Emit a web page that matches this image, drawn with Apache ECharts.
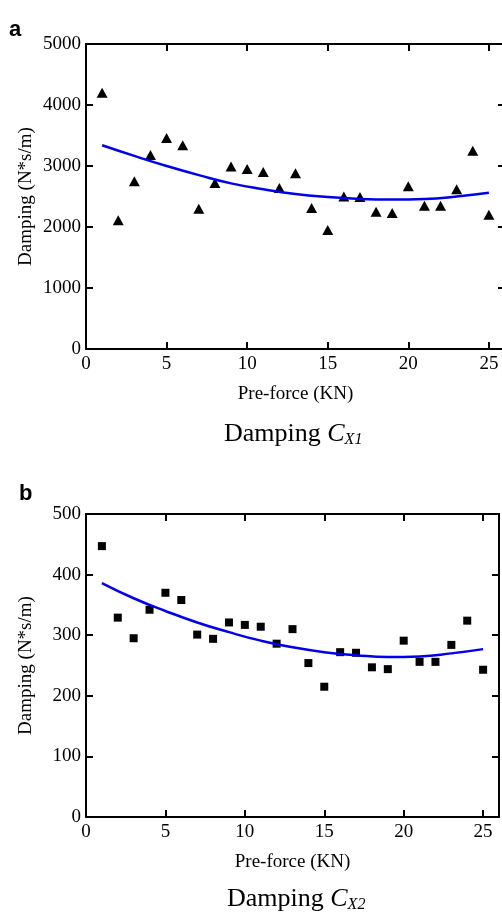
<!DOCTYPE html>
<html>
<head>
<meta charset="utf-8">
<script src="https://cdn.jsdelivr.net/npm/echarts@6/dist/echarts.min.js"></script>
<style>
  html, body { margin: 0; padding: 0; background: #fff; }
  #chart { width: 502px; height: 914px; }
</style>
</head>
<body>
<div id="chart"></div>
<script>
// pre-force values (KN)
const preForce = [1, 2, 3, 4, 5, 6, 7, 8, 9, 10, 11, 12, 13, 14, 15, 16, 17, 18, 19, 20, 21, 22, 23, 24, 25];
// measured damping C_X1 (N*s/m)
const dampCx1 = [4200, 2110, 2750, 3180, 3460, 3340, 2300, 2720, 2990, 2950, 2900, 2640, 2880, 2310, 1950, 2500, 2490, 2250, 2230, 2670, 2350, 2350, 2620, 3250, 2200];
// measured damping C_X2 (N*s/m)
const dampCx2 = [447, 329, 295, 342, 370, 358, 301, 294, 321, 317, 314, 286, 310, 254, 215, 272, 271, 247, 244, 291, 256, 256, 284, 324, 243];
// fitted curves
const fitForce = [1, 3, 5, 7, 9, 11, 13, 15, 17, 19, 21, 23, 25];
const fitCx1 = [3340, 3165, 3000, 2850, 2715, 2620, 2540, 2490, 2460, 2450, 2460, 2500, 2560];
const fitCx2 = [386, 361, 340, 321, 305, 291, 280, 272, 267, 264, 265, 270, 277];
// tick labels
const xTicks = [0, 5, 10, 15, 20, 25];

const chart = echarts.init(document.getElementById('chart'));

const serif = 'Liberation Serif';
const black = '#000';

const pairs = (xs, ys) => xs.map((x, i) => [x, ys[i]]);

const axisLine = { show: true, onZero: false, lineStyle: { color: black, width: 2 } };
const tickIn = { show: true, inside: true, length: 7, lineStyle: { color: black, width: 2 } };

const makeX = (g) => ([
  {
    gridIndex: g, type: 'value', position: 'bottom',
    min: 0, max: 26, interval: 5,
    axisLine, axisTick: tickIn,
    axisLabel: {
      color: black, fontFamily: serif, fontSize: 19, margin: 6,
      formatter: v => (xTicks.includes(v) ? String(v) : '')
    },
    splitLine: { show: false },
    name: 'Pre-force (KN)', nameLocation: 'middle', nameGap: 36,
    nameTextStyle: { color: black, fontFamily: serif, fontSize: 19 }
  },
  {
    gridIndex: g, type: 'value', position: 'top',
    min: 0, max: 26, interval: 5,
    axisLine, axisTick: tickIn,
    axisLabel: { show: false },
    splitLine: { show: false }
  }
]);

const makeY = (g, max, step) => ([
  {
    gridIndex: g, type: 'value', position: 'left',
    min: 0, max: max, interval: step,
    axisLine, axisTick: tickIn,
    axisLabel: { color: black, fontFamily: serif, fontSize: 19, margin: 5, formatter: v => String(v) },
    splitLine: { show: false },
    name: 'Damping (N*s/m)', nameLocation: 'middle', nameGap: 50, nameRotate: 90,
    nameMoveOverlap: false,
    nameTextStyle: { color: black, fontFamily: serif, fontSize: 19 }
  },
  {
    gridIndex: g, type: 'value', position: 'right',
    min: 0, max: max, interval: step,
    axisLine, axisTick: tickIn,
    axisLabel: { show: false },
    splitLine: { show: false }
  }
]);

const caption = (sub, top, left) => ({
  text: '{a|Damping }{c|C}{s|' + sub + '}',
  left: left, top: top,
  textStyle: {
    fontWeight: 'normal',
    rich: {
      a: { fontFamily: serif, fontSize: 26, fontWeight: 'normal', color: black, verticalAlign: 'top' },
      c: { fontFamily: serif, fontSize: 26, fontWeight: 'normal', color: black, fontStyle: 'italic', verticalAlign: 'top' },
      s: { fontFamily: serif, fontSize: 16, fontWeight: 'normal', color: black, fontStyle: 'italic', verticalAlign: 'top', padding: [11, 0, 0, 0] }
    }
  }
});

const option = {
  animation: false,
  backgroundColor: '#fff',
  title: [
    { text: 'a', left: 4, top: 14, textStyle: { fontFamily: 'Liberation Sans', fontWeight: 'bold', fontSize: 22, color: black } },
    { text: 'b', left: 14, top: 478, textStyle: { fontFamily: 'Liberation Sans', fontWeight: 'bold', fontSize: 22, color: black } },
    caption('X1', 416, 219),
    caption('X2', 881, 222)
  ],
  grid: [
    { left: 86, top: 44, width: 419, height: 305, outerBoundsMode: 'none' },
    { left: 86, top: 514, width: 413, height: 303, outerBoundsMode: 'none' }
  ],
  xAxis: [...makeX(0), ...makeX(1)],
  yAxis: [...makeY(0, 5000, 1000), ...makeY(1, 500, 100)],
  series: [
    {
      type: 'scatter', xAxisIndex: 0, yAxisIndex: 0,
      data: pairs(preForce, dampCx1),
      symbol: 'triangle', symbolSize: [11, 10],
      itemStyle: { color: black, opacity: 1 }
    },
    {
      type: 'line', xAxisIndex: 0, yAxisIndex: 0,
      data: pairs(fitForce, fitCx1),
      smooth: true, showSymbol: false,
      lineStyle: { color: '#0000ee', width: 2.5 }
    },
    {
      type: 'scatter', xAxisIndex: 2, yAxisIndex: 2,
      data: pairs(preForce, dampCx2),
      symbol: 'rect', symbolSize: 8,
      itemStyle: { color: black, opacity: 1 }
    },
    {
      type: 'line', xAxisIndex: 2, yAxisIndex: 2,
      data: pairs(fitForce, fitCx2),
      smooth: true, showSymbol: false,
      lineStyle: { color: '#0000ee', width: 2.5 }
    }
  ]
};

chart.setOption(option);
</script>
</body>
</html>
